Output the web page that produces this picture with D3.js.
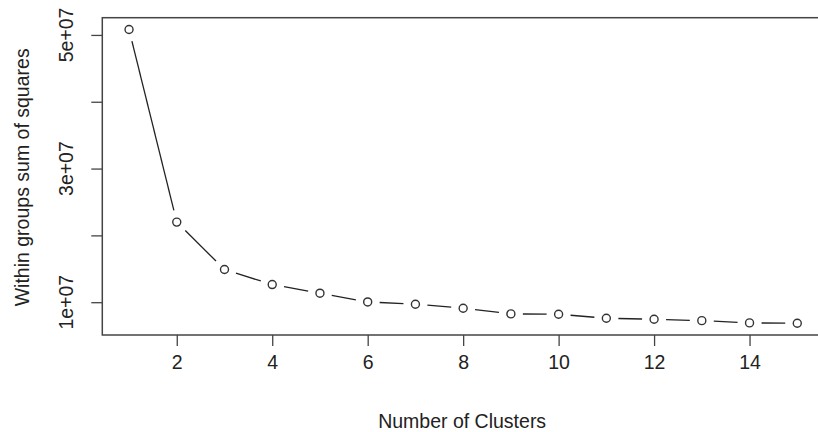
<!DOCTYPE html>
<html>
<head>
<meta charset="utf-8">
<script src="https://cdn.jsdelivr.net/npm/d3@7"></script>
<style>
    html, body { margin: 0; padding: 0; background: #fff; overflow: hidden; }
    svg { display: block; font-family: "Liberation Sans", Arial, sans-serif; }
</style>
</head>
<body>
<svg id="chart" width="818" height="432"></svg>
<script>
// values
const clusters = [1, 2, 3, 4, 5, 6, 7, 8, 9, 10, 11, 12, 13, 14, 15];
const withinSS = [5.082e7, 2.199e7, 1.489e7, 1.264e7, 1.135e7, 1.004e7, 0.970e7, 0.910e7,
                  0.825e7, 0.820e7, 0.760e7, 0.745e7, 0.724e7, 0.690e7, 0.685e7];
const xTicks = [2, 4, 6, 8, 10, 12, 14];
const yTicks = [1e7, 2e7, 3e7, 4e7, 5e7];
const yLabelled = [1e7, 3e7, 5e7];

class ElbowPlot {
    #box = {'left': 102.3, 'right': 824, 'top': 17.7, 'bottom': 335};
    #ink = "#333";

    constructor(svgid){
        this.svg = d3.select(svgid);
        this.nodes = clusters.map((k, i) => ({k: k, v: withinSS[i]}));
    }

    // R style: pad the data range by 4% on each side
    pad(extent){
        const d = (extent[1] - extent[0]) * 0.04;
        return [extent[0] - d, extent[1] + d];
    }

    process(){
        this.x = d3.scaleLinear().domain(this.pad(d3.extent(clusters))).range([this.#box.left, this.#box.right]);
        this.y = d3.scaleLinear().domain(this.pad(d3.extent(withinSS))).range([this.#box.bottom, this.#box.top]);
        this.nodes.forEach(d => { d.x = this.x(d.k); d.y = this.y(d.v); });
        this.draw();
    }

    draw(){
        const b = this.#box;
        const font = 19.5;

        // frame
        this.svg.append("rect")
            .attr("x", b.left).attr("y", b.top)
            .attr("width", b.right - b.left).attr("height", b.bottom - b.top)
            .attr("fill", "none").attr("stroke", "#444").attr("stroke-width", 1.5);

        // x axis
        const xa = this.svg.append("g")
            .attr("transform", `translate(0, ${b.bottom})`)
            .call(d3.axisBottom(this.x).tickValues(xTicks).tickSize(11).tickPadding(9).tickFormat(d3.format("d")));
        xa.select(".domain").remove();
        xa.selectAll("line").attr("stroke", "#444").attr("stroke-width", 1.3);
        xa.selectAll("text").attr("font-size", font).attr("fill", "#222")
            .attr("font-family", "Liberation Sans, Arial, sans-serif");

        // y axis (labels rotated like R's las=0)
        const ya = this.svg.append("g")
            .attr("transform", `translate(${b.left}, 0)`)
            .call(d3.axisLeft(this.y).tickValues(yTicks).tickSize(11).tickFormat(""));
        ya.select(".domain").remove();
        ya.selectAll("line").attr("stroke", "#444").attr("stroke-width", 1.3);

        this.svg.append("g").selectAll("text")
            .data(yLabelled)
            .join("text")
            .attr("transform", d => `translate(73, ${this.y(d)}) rotate(-90)`)
            .attr("text-anchor", "middle")
            .attr("font-size", font)
            .attr("fill", "#222")
            .text(d => d3.format(".0e")(d).replace(/e\+(\d)$/, "e+0$1"));

        // axis titles
        this.svg.append("text")
            .attr("x", (b.left + 824) / 2 - 1).attr("y", 428)
            .attr("text-anchor", "middle").attr("font-size", font).attr("fill", "#222")
            .text("Number of Clusters");
        this.svg.append("text")
            .attr("transform", `translate(29, ${(b.top + b.bottom) / 2 + 1}) rotate(-90)`)
            .attr("text-anchor", "middle").attr("font-size", font).attr("fill", "#222")
            .text("Within groups sum of squares");

        // type = "b": segments stop short of the points
        const gap = 12;
        const segs = d3.pairs(this.nodes).map(([p, q]) => {
            const dx = q.x - p.x, dy = q.y - p.y, len = Math.hypot(dx, dy);
            const ux = dx / len, uy = dy / len;
            return {x1: p.x + ux * gap, y1: p.y + uy * gap, x2: q.x - ux * gap, y2: q.y - uy * gap, len: len};
        }).filter(s => s.len > 2 * gap);

        this.svg.append("g").selectAll("line")
            .data(segs)
            .join("line")
            .attr("x1", d => d.x1).attr("y1", d => d.y1)
            .attr("x2", d => d.x2).attr("y2", d => d.y2)
            .attr("stroke", "#222").attr("stroke-width", 1.3);

        this.svg.append("g").selectAll(".node")
            .data(this.nodes)
            .join("circle")
            .attr("class", "node")
            .attr("cx", d => d.x).attr("cy", d => d.y)
            .attr("r", 4)
            .attr("fill", "#fff")
            .attr("stroke", this.#ink).attr("stroke-width", 1.4);
    }
}

new ElbowPlot("#chart").process();
</script>
</body>
</html>
